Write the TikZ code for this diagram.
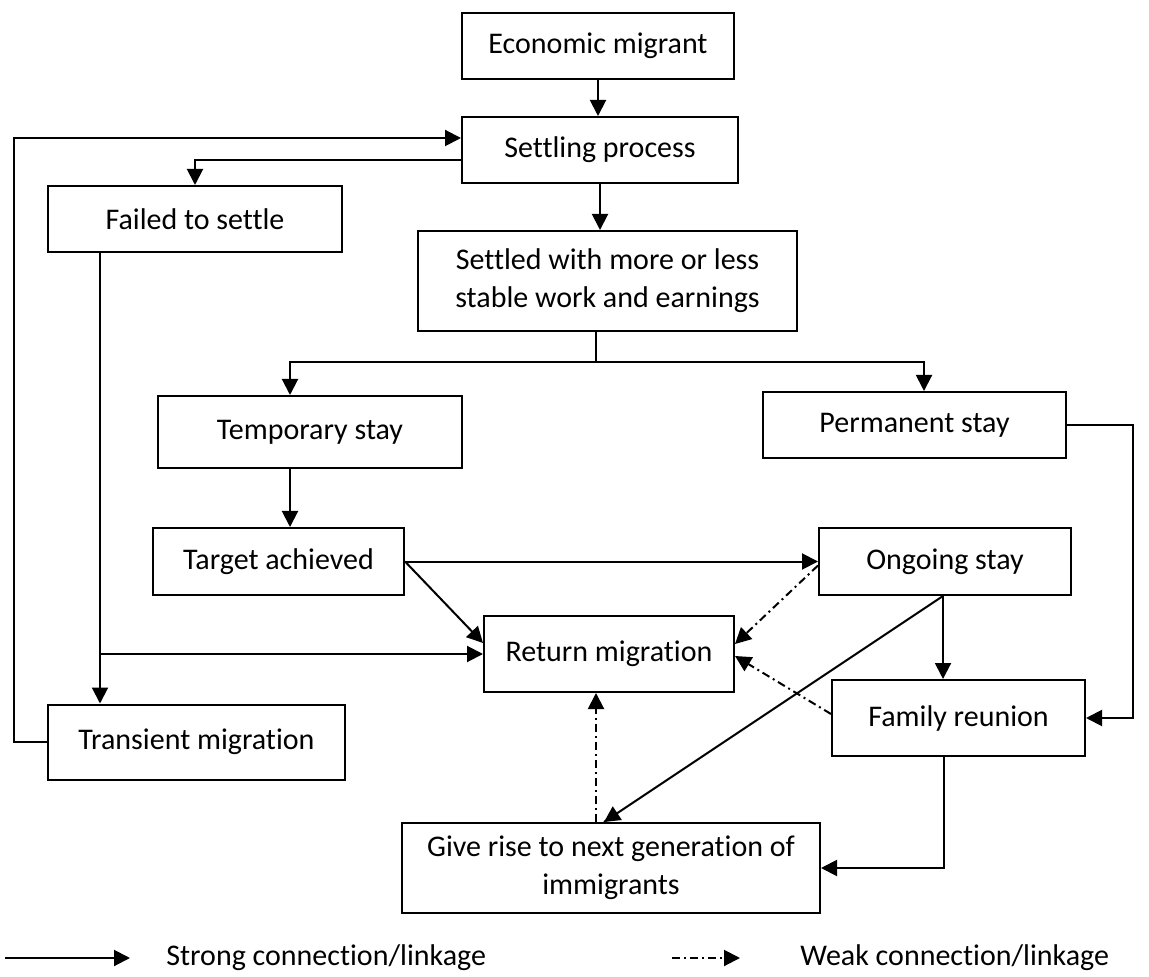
\documentclass[tikz,border=0pt]{standalone}
\usepackage{fontspec}
\setmainfont{Carlito}[Ligatures=NoCommon]
\usepackage{tikz}
\usetikzlibrary{arrows.meta, calc}
\tikzset{
    box/.style={draw=black, line width=1pt, fill=white, inner sep=0pt, align=center,
        font=\fontsize{15}{19}\selectfont},
    strong/.style={-{Triangle[length=8pt, width=8pt]}, line width=1pt, black},
    plain/.style={line width=1pt, black},
    weak/.style={strong, dash pattern=on 4pt off 2pt on 1pt off 2pt},
    legtext/.style={anchor=west, inner sep=0pt, font=\fontsize{15}{19}\selectfont}
}

\begin{document}
\begin{tikzpicture}[x=0.5pt, y=-0.5pt]
        \useasboundingbox (0,0) rectangle (1149,977);

        % Boxes
        \node[box, minimum width=136pt, minimum height=33pt] (economic) at (598,46) {Economic migrant};
        \node[box, minimum width=138pt, minimum height=33pt] (settling) at (600,150) {Settling process};
        \node[box, minimum width=147pt, minimum height=33pt] (failed) at (195,219) {Failed to settle};
        \node[box, minimum width=189.5pt, minimum height=50pt] (settled) at (607.5,281) {Settled with more or less\\stable work and earnings};
        \node[box, minimum width=152pt, minimum height=36pt] (temporary) at (310,432) {Temporary stay};
        \node[box, minimum width=151.5pt, minimum height=33pt] (permanent) at (914.5,425) {Permanent stay};
        \node[box, minimum width=125.5pt, minimum height=33.5pt] (target) at (278.5,561.5) {Target achieved};
        \node[box, minimum width=126pt, minimum height=33.5pt] (ongoing) at (945,561.5) {Ongoing stay};
        \node[box, minimum width=125pt, minimum height=38pt] (return) at (609,654) {Return migration};
        \node[box, minimum width=126.5pt, minimum height=38pt] (family) at (958.5,718) {Family reunion};
        \node[box, minimum width=148.5pt, minimum height=37.5pt] (transient) at (196.5,742) {Transient migration};
        \node[box, minimum width=209pt, minimum height=45pt] (giverise) at (611,868) {Give rise to next generation of\\immigrants};

        % Strong links
        \draw[strong] (economic.south) -- (economic.south |- settling.north);
        \draw[strong] (settling.south) -- (settling.south |- settled.north);
        \draw[strong] ([yshift=-5pt]settling.west) -| (failed.north);
        \draw[strong] (transient.west) -- ++(-16.5pt,0) |- ([yshift=6pt]settling.west);
        \draw[strong] ([xshift=-47.5pt]failed.south) -- ([xshift=-47.5pt]failed.south |- transient.north);
        \draw[strong] ([xshift=-47.5pt]failed.south |- return.west) -- (return.west);

        \coordinate (split) at (596,362);
        \draw[plain] (split |- settled.south) -- (split);
        \draw[strong] (split) -| ([xshift=-10pt]temporary.north);
        \draw[strong] (split) -| ([xshift=4.75pt]permanent.north);
        \draw[strong] ([xshift=-10pt]temporary.south) -- ([xshift=-10pt]temporary.south |- target.north);

        \draw[strong] (target.east) -- (ongoing.west);
        \draw[strong] (target.east) -- ([yshift=5.5pt]return.west);
        \draw[strong] (permanent.east) -- ++(33pt,0) |- (family.east);
        \draw[strong] ([xshift=-1pt]ongoing.south) -- ([xshift=-1pt]ongoing.south |- family.north);
        \draw[plain] ([xshift=-1pt]ongoing.south) -- ([xshift=-3.5pt]giverise.north);
        \draw[strong] ($([xshift=-1pt]ongoing.south)!0.96!([xshift=-3.5pt]giverise.north)$) -- ([xshift=-3.5pt]giverise.north);
        \draw[strong] ([xshift=-7.25pt]family.south) |- (giverise.east);

        % Weak links
        \draw[weak] ([yshift=-2pt]ongoing.west) -- ([yshift=5pt]return.east);
        \draw[weak] ([yshift=2pt]family.west) -- ([yshift=-1pt]return.east);
        \draw[weak] ([xshift=-7.5pt]giverise.north) -- ([xshift=-7.5pt]giverise.north |- return.south);

        % Legend
        \coordinate (legsa) at (5,958);
        \coordinate (legsb) at (130,958);
        \coordinate (legwa) at (672,958);
        \coordinate (legwb) at (740,958);
        \draw[strong] (legsa) -- (legsb);
        \draw[weak] (legwa) -- (legwb);
        \node[legtext] (legstrong) at (166,958) {Strong connection/linkage};
        \node[legtext] (legweak) at (800,958) {Weak connection/linkage};
    \end{tikzpicture}
\end{document}
